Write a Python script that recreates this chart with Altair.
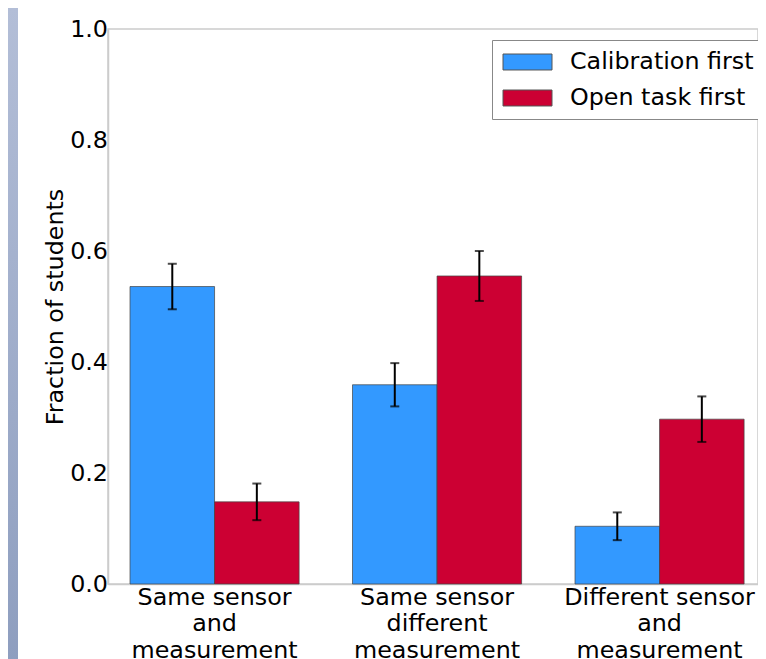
import altair as alt
import pandas as pd

categories = [
    "Same sensor\nand\nmeasurement",
    "Same sensor\ndifferent\nmeasurement",
    "Different sensor\nand\nmeasurement",
]
groups = ["Calibration first", "Open task first"]
calibration_first = [0.536, 0.359, 0.104]
calibration_err = [0.041, 0.039, 0.025]
open_task_first = [0.148, 0.555, 0.297]
open_task_err = [0.033, 0.045, 0.041]
y_ticks = [0.0, 0.2, 0.4, 0.6, 0.8, 1.0]
colors = ["#3399ff", "#cc0033"]

rows = []
for g, vals, errs in [(groups[0], calibration_first, calibration_err),
                      (groups[1], open_task_first, open_task_err)]:
    for c, v, e in zip(categories, vals, errs):
        rows.append({"category": c, "group": g, "value": v, "lo": v - e, "hi": v + e})
df = pd.DataFrame(rows)

W, H = 650, 555
FONT = "DejaVu Sans"
FS = 23.8

x_enc = alt.X(
    "category:N", sort=categories,
    scale=alt.Scale(paddingInner=0.24, paddingOuter=0.0807, align=0.613),
    axis=alt.Axis(title=None, labelAngle=0, labelExpr="split(datum.label, '\\n')",
                  labelFontSize=FS, labelFont=FONT, labelColor="black",
                  labelLineHeight=26.5, labelPadding=1, ticks=False, labelLimit=400,
                  domainColor="#cccccc", domainWidth=1.5),
)
xo_enc = alt.XOffset("group:N", sort=groups, scale=alt.Scale(paddingInner=0, paddingOuter=0))

y_scale = alt.Scale(domain=[0, 1], nice=False)
y_axis = alt.Axis(values=y_ticks, format=".1f", title="Fraction of students",
                  titleFontSize=FS, titleFont=FONT, titleFontWeight="normal",
                  titleColor="black", titlePadding=2,
                  labelFontSize=FS, labelFont=FONT, labelColor="black", labelPadding=0.5,
                  grid=False, ticks=False, domainColor="#cccccc", domainWidth=1.5)


def ye(field):
    return alt.Y(field, scale=y_scale, axis=y_axis)


bars = alt.Chart(df).mark_bar(stroke="#444444", strokeWidth=0.7).encode(
    x=x_enc, xOffset=xo_enc, y=ye("value:Q"),
    color=alt.Color("group:N", scale=alt.Scale(domain=groups, range=colors),
                    legend=alt.Legend(title=None, orient="none", legendX=384, legendY=11,
                                      symbolType="M-0.898,-0.653H3.103V0.653H-0.898Z",
                                      symbolSize=600, symbolStrokeColor="#555555",
                                      symbolStrokeWidth=1, symbolOpacity=1,
                                      labelFontSize=FS, labelFont=FONT, labelColor="black",
                                      labelOffset=43, padding=9, rowPadding=11,
                                      strokeColor="#888888", fillColor="white",
                                      labelLimit=400)),
)

err = alt.Chart(df).mark_rule(color="black", strokeWidth=2).encode(
    x=x_enc, xOffset=xo_enc, y=ye("lo:Q"), y2="hi:Q",
)
cap_lo = alt.Chart(df).mark_tick(color="black", thickness=2, size=9).encode(
    x=x_enc, xOffset=xo_enc, y=ye("lo:Q"),
)
cap_hi = alt.Chart(df).mark_tick(color="black", thickness=2, size=9).encode(
    x=x_enc, xOffset=xo_enc, y=ye("hi:Q"),
)

strip = alt.Chart(pd.DataFrame({"d": [0]})).mark_rect(
    color=alt.LinearGradient(
        gradient="linear",
        stops=[alt.GradientStop(color="#b3bed7", offset=0),
               alt.GradientStop(color="#8e9ebf", offset=1)],
        x1=0, x2=0, y1=0, y2=1),
).encode(x=alt.value(-100), x2=alt.value(-90), y=alt.value(-21), y2=alt.value(H + 80))

chart = alt.layer(strip, bars, err, cap_lo, cap_hi).properties(
    width=W, height=H,
    autosize=alt.AutoSizeParams(type="none"),
    padding={"left": 100, "top": 21, "right": 0, "bottom": 80},
    background="white",
).configure_view(stroke="#cccccc", strokeWidth=1.5)

chart.save("out.html", embed_options={"renderer": "svg", "actions": False})
